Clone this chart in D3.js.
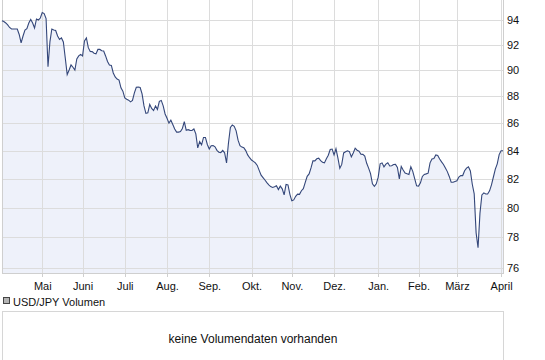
<!DOCTYPE html>
<html><head><meta charset="utf-8">
<script src="https://cdn.jsdelivr.net/npm/d3@7"></script>
<style>
body{margin:0;background:#fff}
svg{display:block;font-family:"Liberation Sans",Arial,sans-serif}
</style>
</head><body>
<svg id="c" width="545" height="360"></svg>
<script>
// ---- data ----
const startDate = "2010-04-02"; // first trading day shown (weekdays follow)
const values = [
93.90,93.84,93.72,93.56,93.36,93.24,93.24,93.24,93.24,92.80,
92.13,92.68,93.16,93.27,93.72,94.00,93.72,93.32,94.04,93.96,
94.12,94.56,94.48,94.08,90.27,92.21,93.24,93.16,93.12,92.68,
92.41,92.53,92.21,90.95,89.67,90.02,90.41,90.23,90.02,90.88,
91.11,91.23,91.11,92.29,92.53,91.76,91.46,91.45,91.32,91.27,
91.62,91.62,91.52,91.50,91.11,90.68,90.41,90.37,89.79,89.48,
89.32,89.24,88.65,88.40,87.89,87.79,87.72,87.59,87.70,88.27,
88.70,88.72,88.68,88.19,87.29,86.73,86.77,87.40,87.10,86.94,
87.29,87.03,87.63,87.70,87.29,86.69,86.37,86.01,86.23,85.91,
85.58,85.35,85.35,85.39,85.62,86.12,85.49,85.53,85.48,85.47,
85.58,85.22,84.20,84.66,84.43,84.96,84.96,84.45,84.12,84.36,
84.38,84.28,84.03,83.89,83.87,84.03,83.85,83.13,84.56,85.69,
85.88,85.77,85.44,84.76,84.37,84.26,84.22,84.01,83.70,83.50,
83.33,83.24,83.13,82.95,82.60,82.26,82.09,81.92,81.74,81.58,
81.46,81.40,81.44,81.51,81.25,81.49,81.30,80.88,81.61,81.58,
80.92,80.47,80.53,80.78,80.93,80.92,81.17,81.31,81.75,82.18,
82.35,82.77,83.27,83.27,83.42,83.46,83.29,83.18,83.13,83.43,
83.68,84.09,84.12,83.70,84.14,83.48,82.74,83.02,83.84,83.92,
83.99,83.94,83.56,83.84,84.18,84.04,83.97,83.75,83.74,83.62,
83.10,82.76,82.37,81.65,81.47,81.65,82.12,83.06,83.13,82.85,
83.04,83.14,82.91,82.92,83.01,83.02,82.81,82.00,82.88,82.63,
82.41,82.36,82.31,82.85,82.53,82.01,81.51,81.49,81.72,82.17,
82.31,82.35,82.40,83.13,83.41,83.44,83.70,83.66,83.41,83.20,
83.02,82.76,82.51,82.17,81.76,81.76,81.81,81.86,82.13,82.23,
82.23,82.57,82.76,82.85,82.56,81.62,80.95,78.29,77.30,79.62,
80.88,81.02,80.94,80.94,81.16,81.58,82.13,82.69,83.06,83.72,
84.00,84.00
];
const monthKeys   = ["2010-05","2010-06","2010-07","2010-08","2010-09","2010-10","2010-11","2010-12","2011-01","2011-02","2011-03","2011-04"];
const monthLabels = ["Mai","Juni","Juli","Aug.","Sep.","Okt.","Nov.","Dez.","Jan.","Feb.","März","April"];
const yTicks = [76,78,80,82,84,86,88,90,92,94];
const legendLabel = "USD/JPY Volumen";
const noVolumeText = "keine Volumendaten vorhanden";

// trading-day calendar (weekdays)
const dates = [];
{
  let d = new Date(startDate + "T00:00:00Z");
  while (dates.length < values.length) {
    const wd = d.getUTCDay();
    if (wd !== 0 && wd !== 6) dates.push(new Date(d));
    d = new Date(d.getTime() + 86400000);
  }
}
const fmtMonth = d3.utcFormat("%Y-%m");
const monthIdx = monthKeys.map(k => dates.findIndex(d => fmtMonth(d) === k));

const data = values.map((v, i) => ({i, v}));

// ---- layout ----
const L = 2, R = 503, T = 0, B = 273;
const svg = d3.select("#c");

const x = d3.scaleLinear().domain([-1, values.length - 1]).range([0, R]);
const y = d3.scaleLog().domain([76, 94]).range([267.5, 19.5]);

// area
svg.append("path").datum(data)
  .attr("fill", "#eef1fa")
  .attr("d", d3.area().x(d => x(d.i)).y0(B).y1(d => y(d.v)));

// grid
const grid = svg.append("g").attr("stroke", "#dcdcdc").attr("stroke-width", 1).attr("shape-rendering", "crispEdges");
grid.selectAll("line.h").data(yTicks).join("line")
  .attr("x1", L).attr("x2", R).attr("y1", d => Math.round(y(d)) + 0.5).attr("y2", d => Math.round(y(d)) + 0.5);
grid.selectAll("line.v").data(monthIdx).join("line")
  .attr("y1", T).attr("y2", B).attr("x1", d => Math.round(x(d)) + 0.5).attr("x2", d => Math.round(x(d)) + 0.5);

// frame
svg.append("path")
  .attr("d", `M${L+0.5},${T} V${B+0.5} H${R+0.5} V${T}`)
  .attr("fill", "none").attr("stroke", "#cfcfcf").attr("shape-rendering", "crispEdges");

// line
svg.append("path").datum(data)
  .attr("fill", "none").attr("stroke", "#34477a").attr("stroke-width", 1.1)
  .attr("d", d3.line().x(d => x(d.i)).y(d => y(d.v)));

// x axis (months)
const xAxis = d3.axisBottom(x).tickValues(monthIdx).tickSize(4)
  .tickFormat((d, k) => monthLabels[k]);
const gx = svg.append("g").attr("transform", `translate(0,${B})`).call(xAxis);
gx.select(".domain").remove();
gx.selectAll(".tick line").attr("stroke", "#cfcfcf").attr("shape-rendering", "crispEdges");
gx.selectAll(".tick text").attr("y", 9).attr("fill", "#111")
  .style("font-size", "11px").style("font-family", '"Liberation Sans",Arial,sans-serif');

// y axis (right)
const yAxis = d3.axisRight(y).tickValues(yTicks).tickSize(0).tickPadding(4).tickFormat(d3.format("d"));
const gy = svg.append("g").attr("transform", `translate(${R},0)`).call(yAxis);
gy.select(".domain").remove();
gy.selectAll(".tick text").attr("fill", "#111")
  .style("font-size", "11px").style("font-family", '"Liberation Sans",Arial,sans-serif');

// legend for volume panel
svg.append("rect").attr("x", 3.5).attr("y", 297.5).attr("width", 6).attr("height", 6)
  .attr("fill", "#b4b4b4").attr("stroke", "#444");
svg.append("text").attr("x", 13).attr("y", 306).attr("font-size", 11).attr("fill", "#111").text(legendLabel);

// volume panel
svg.append("rect").attr("x", L + 0.5).attr("y", 311.5).attr("width", R - L).attr("height", 70)
  .attr("fill", "#fff").attr("stroke", "#d6d6d6").attr("shape-rendering", "crispEdges");
svg.append("text").attr("x", 253).attr("y", 343).attr("text-anchor", "middle")
  .attr("font-size", 12).attr("fill", "#111").text(noVolumeText);
</script>
</body></html>
